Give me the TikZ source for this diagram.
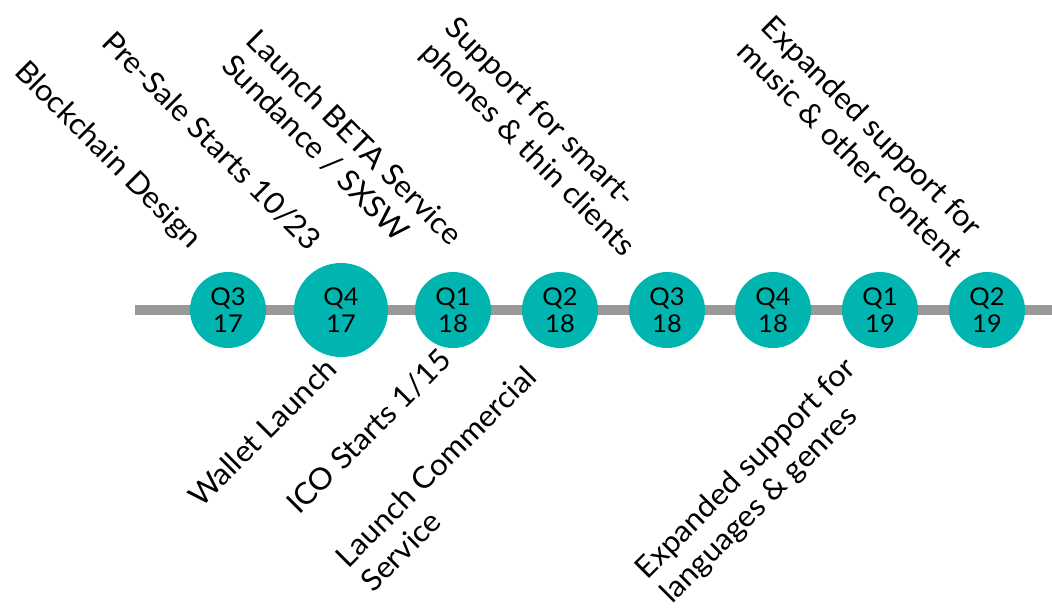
\documentclass[tikz,border=0pt]{standalone}
\usepackage{fontspec}
\setmainfont[FakeStretch=1.04]{Lato}
\definecolor{tealfill}{RGB}{0,181,176}
\definecolor{bargray}{RGB}{153,153,153}
\begin{document}
\begin{tikzpicture}[x=1pt,y=-1pt,
  qnode/.style={circle, fill=tealfill, minimum size=76pt, inner sep=0pt, align=center,
    font=\fontsize{24.5}{27}\selectfont},
  qbig/.style={qnode, minimum size=94pt},
  uplabel/.style={rotate=-45, anchor=base west, inner sep=0pt, align=left,
    font=\fontsize{30}{35}\selectfont},
  downlabel/.style={rotate=45, anchor=base west, inner sep=0pt, align=left,
    font=\fontsize{30}{35}\selectfont},
  timeline/.style={draw=bargray, line width=10pt}]
\useasboundingbox (0,0) rectangle (1052,610);
\coordinate (tstart) at (135,310);
\coordinate (tend) at (1052,310);
\draw[timeline] (tstart) -- (tend);
\node[qnode] (q317) at (228,310) {Q3\\17};
\node[qbig]  (q417) at (341,310) {Q4\\17};
\node[qnode] (q118) at (453,310) {Q1\\18};
\node[qnode] (q218) at (560,310) {Q2\\18};
\node[qnode] (q318) at (667,310) {Q3\\18};
\node[qnode] (q418) at (773,310) {Q4\\18};
\node[qnode] (q119) at (880,310) {Q1\\19};
\node[qnode] (q219) at (987,310) {Q2\\19};
% top labels (anchor: baseline start of the last line)
\node[uplabel] (l1) at (13,73) {Blockchain Design};
\node[uplabel] (l2) at (100,44) {Pre-Sale Starts 10/23};
\node[uplabel] (l3) at (220,67) {Launch BETA Service\\Sundance / SXSW};
\node[uplabel] (l4) at (419,54) {Support for smart-\\phones \& thin clients};
\node[uplabel] (l5) at (735,53) {Expanded support for\\music \& other content};
% bottom labels
\node[downlabel] (b1) at (201,509) {Wallet Launch};
\node[downlabel] (b2) at (299,516) {ICO Starts 1/15};
\node[downlabel] (b3) at (373,594) {Launch Commercial\\Service};
\node[downlabel] (b4) at (672,605) {Expanded support for\\languages \& genres};
\end{tikzpicture}
\end{document}
